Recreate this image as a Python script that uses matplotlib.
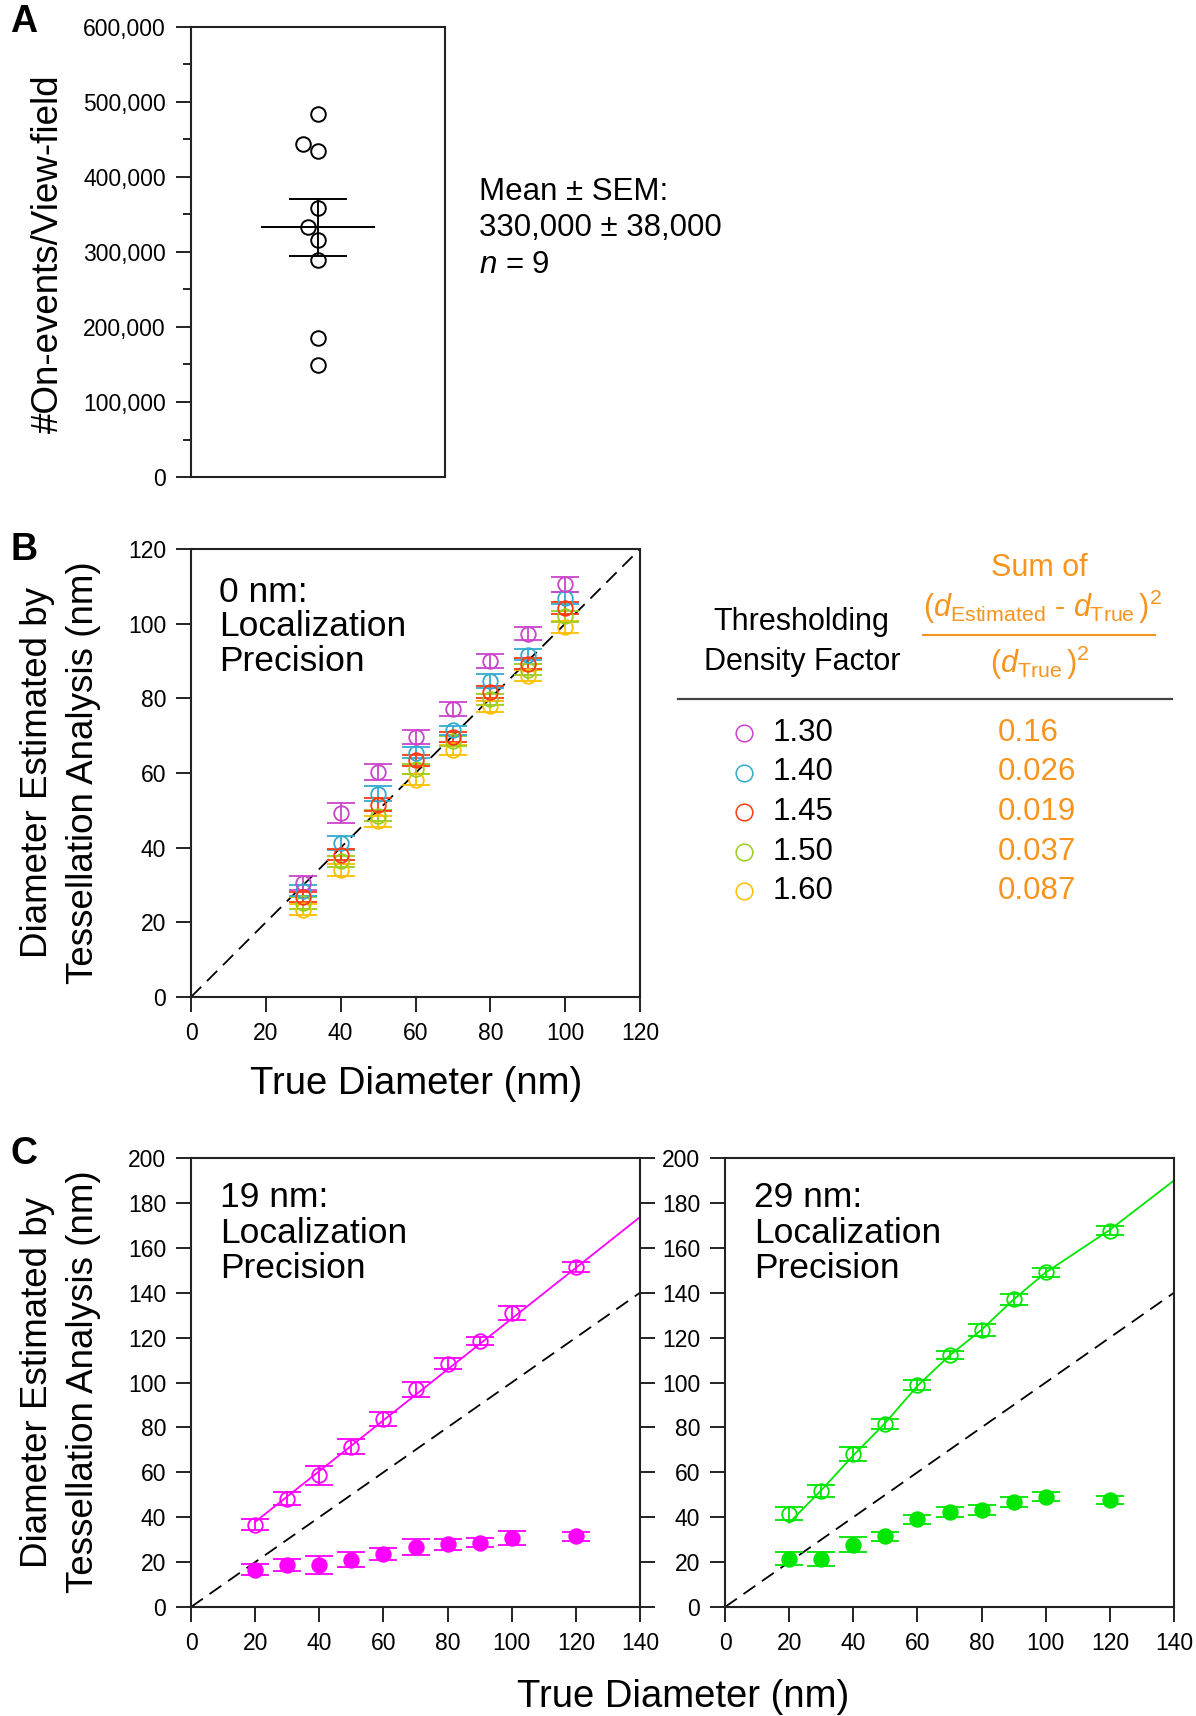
import numpy as np
import matplotlib
matplotlib.use('Agg')
import matplotlib.pyplot as plt
from matplotlib.ticker import FuncFormatter, MultipleLocator

plt.rcParams['font.family'] = ['Liberation Sans', 'DejaVu Sans']
plt.rcParams['mathtext.fontset'] = 'custom'
plt.rcParams['mathtext.rm'] = 'Liberation Sans'
plt.rcParams['mathtext.it'] = 'Liberation Sans:italic'
plt.rcParams['mathtext.bf'] = 'Liberation Sans:bold'

## panel A : on-events per view-field
eventsA = [483600, 444000, 435100, 359100, 333000, 316000, 289300, 184900, 149300]
jitterA = [0, -0.118, 0, 0, -0.079, 0, 0, 0, 0]
statA_text = ['Mean ± SEM:', '330,000 ± 38,000', '$n$ = 9']

## panel B : 0 nm localization precision, several density factors
trueB = [30, 40, 50, 60, 70, 80, 90, 100]
factors = ['1.30', '1.40', '1.45', '1.50', '1.60']
sumsq = ['0.16', '0.026', '0.019', '0.037', '0.087']
estB = {
    '1.30': [30.5, 49.3, 60.2, 69.7, 77.2, 89.9, 97.3, 110.5],
    '1.40': [28.5, 41.3, 54.5, 65.4, 71.4, 84.6, 91.7, 106.9],
    '1.45': [26.8, 38.1, 51.5, 63.4, 69.6, 81.6, 89.3, 104.2],
    '1.50': [25.2, 36.3, 48.6, 61.1, 68.5, 79.7, 87.7, 102.0],
    '1.60': [23.4, 33.9, 47.1, 58.2, 66.1, 77.9, 86.1, 99.1],
}
errB = {
    '1.30': [1.9, 2.7, 2.1, 1.8, 1.9, 1.9, 1.8, 2.0],
    '1.40': [1.5, 1.8, 2.0, 1.5, 1.2, 1.8, 1.5, 1.5],
    '1.45': [1.4, 1.5, 1.8, 1.5, 1.3, 1.6, 1.4, 1.5],
    '1.50': [1.5, 1.5, 1.5, 1.4, 1.3, 1.4, 1.4, 1.5],
    '1.60': [1.5, 1.6, 1.5, 1.5, 1.3, 1.5, 1.4, 1.5],
}
colB = {'1.30': '#cc44cc', '1.40': '#33aad0', '1.45': '#ff3a14',
        '1.50': '#9acd1e', '1.60': '#ffbe00'}
draw_order = ['1.60', '1.50', '1.40', '1.30', '1.45']

## panel C : 19 nm and 29 nm localization precision
trueC = [20, 30, 40, 50, 60, 70, 80, 90, 100, 120]
open19 = [36.7, 48.3, 58.7, 71.4, 83.7, 97.0, 108.3, 118.5, 131.0, 151.5]
open19_err = [2.5, 2.8, 4.2, 3.3, 3.0, 3.3, 2.5, 1.9, 3.1, 2.2]
fill19 = [16.7, 18.6, 18.9, 21.1, 23.8, 26.8, 28.0, 28.6, 30.8, 31.5]
fill19_err = [2.5, 2.7, 4.0, 3.5, 2.7, 3.6, 2.5, 2.0, 3.2, 2.0]
fit19_x = [20, 140]
fit19_y = [37.9, 173.7]
open29 = [41.6, 51.6, 68.1, 81.5, 98.9, 112.3, 123.4, 137.1, 149.1, 167.7]
open29_err = [3.0, 2.8, 3.2, 2.1, 2.1, 1.9, 2.5, 2.4, 2.0, 1.9]
fill29 = [21.6, 21.3, 27.8, 31.5, 39.0, 42.4, 43.4, 46.8, 49.1, 47.6]
fill29_err = [2.8, 3.0, 3.3, 2.1, 2.2, 2.2, 2.2, 2.2, 2.1, 1.9]
fit29_x = [20, 30, 40, 50, 60, 70, 80, 90, 100, 120, 140]
fit29_y = [37.5, 52, 67.5, 82, 98.5, 112, 123.5, 137, 149, 168, 190]

orange = '#f7941d'
W, H = 1196, 1716
fig = plt.figure(figsize=(W/100., H/100.), dpi=100)

def px_axes(x0, y0, x1, y1):
    return fig.add_axes([x0/W, 1-y1/H, (x1-x0)/W, (y1-y0)/H])

def style(ax):
    for s in ax.spines.values():
        s.set_linewidth(1.5)
        s.set_color('#222222')
    ax.tick_params(direction='out', length=11, width=1.4, pad=7,
                   labelsize=16.5, color='#222222')

dash = (0, (8, 4.5))

# ---- A
axA = px_axes(191, 27, 445, 477)
style(axA)
xA = 1 + np.array(jitterA)
axA.plot(xA, eventsA, 'o', ms=10.5, mfc='none', mec='black', mew=1.4)
meanA = np.mean(eventsA)
semA = np.std(eventsA, ddof=1)/np.sqrt(len(eventsA))
axA.hlines(meanA, 1-0.45, 1+0.45, color='black', lw=1.4)
axA.hlines([meanA-semA, meanA+semA], 1-0.23, 1+0.23, color='black', lw=1.4)
axA.vlines(1, meanA-semA, meanA+semA, color='black', lw=1.4)
axA.set_xlim(0, 2)
axA.set_ylim(0, 600000)
axA.set_xticks([])
axA.yaxis.set_major_locator(MultipleLocator(100000))
axA.yaxis.set_minor_locator(MultipleLocator(50000))
axA.tick_params(which='minor', length=5.5, width=1.4, color='#222222')
axA.yaxis.set_major_formatter(FuncFormatter(lambda v, p: '{:,}'.format(int(v))))

# ---- B
axB = px_axes(191, 549, 640, 997)
style(axB)
axB.plot([0, 120], [0, 120], ls=dash, color='black', lw=1.3)
for f in draw_order:
    axB.errorbar(trueB, estB[f], yerr=errB[f], fmt='o', ms=10.5, mfc='none',
                 mec=colB[f], mew=1.3, ecolor=colB[f], elinewidth=1.3,
                 capsize=9.8, capthick=1.3)
axB.set_xlim(0, 120)
axB.set_ylim(0, 120)
axB.set_xticks(range(0, 121, 20))
axB.set_yticks(range(0, 121, 20))
axB.text(0.062, 0.902, '0 nm:', transform=axB.transAxes, fontsize=25.5, va='center')
axB.text(0.062, 0.826, 'Localization', transform=axB.transAxes, fontsize=25.5, va='center')
axB.text(0.062, 0.748, 'Precision', transform=axB.transAxes, fontsize=25.5, va='center')

# ---- C
axC1 = px_axes(191, 1158, 640, 1607)
axC2 = px_axes(725, 1158, 1174, 1607)
panelsC = [(axC1, '19', '#ff00ff', open19, open19_err, fill19, fill19_err, fit19_x, fit19_y),
           (axC2, '29', '#00e600', open29, open29_err, fill29, fill29_err, fit29_x, fit29_y)]
for ax, prec, col, op, ope, fi, fie, fx, fy in panelsC:
    style(ax)
    ax.plot([0, 140], [0, 140], ls=dash, color='black', lw=1.3)
    ax.plot(fx, fy, color=col, lw=1.3)
    ax.errorbar(trueC, op, yerr=ope, fmt='o', ms=10.5, mfc='none', mec=col,
                mew=1.3, ecolor=col, elinewidth=1.3, capsize=9.8, capthick=1.3)
    ax.errorbar(trueC, fi, yerr=fie, fmt='o', ms=10.5, mfc=col, mec=col,
                mew=1.3, ecolor=col, elinewidth=1.3, capsize=9.8, capthick=1.3)
    ax.set_xlim(0, 140)
    ax.set_ylim(0, 200)
    ax.set_xticks(range(0, 141, 20))
    ax.set_yticks(range(0, 201, 20))
    ax.text(0.065, 0.911, prec + ' nm:', transform=ax.transAxes, fontsize=25.5, va='center')
    ax.text(0.065, 0.831, 'Localization', transform=ax.transAxes, fontsize=25.5, va='center')
    ax.text(0.065, 0.755, 'Precision', transform=ax.transAxes, fontsize=25.5, va='center')
axC1.tick_params(right=True, labelright=False)

# ---- overlay for labels and the table legend
ov = fig.add_axes([0, 0, 1, 1])
ov.set_xlim(0, W)
ov.set_ylim(H, 0)
ov.axis('off')
ov.patch.set_visible(False)

for lab, y in [('A', 22), ('B', 550), ('C', 1154)]:
    ov.text(24, y, lab, fontsize=27, fontweight='bold', ha='center', va='center')

ov.text(48, 254, '#On-events/View-field', fontsize=26.5, rotation=90, ha='center', va='center')
for yc in [773, 1382]:
    ov.text(38, yc, 'Diameter Estimated by', fontsize=26.5, rotation=90, ha='center', va='center')
    ov.text(84, yc, 'Tessellation Analysis (nm)', fontsize=26.5, rotation=90, ha='center', va='center')
ov.text(416, 1084, 'True Diameter (nm)', fontsize=27.5, ha='center', va='center')
ov.text(683, 1697, 'True Diameter (nm)', fontsize=27.5, ha='center', va='center')

for i, t in enumerate(statA_text):
    ov.text(479, 192 + 36.5*i, t, fontsize=22.5, ha='left', va='center')

ov.text(801, 622, 'Thresholding', fontsize=22, ha='center', va='center')
ov.text(802, 662, 'Density Factor', fontsize=22, ha='center', va='center')
ov.text(1039, 568, 'Sum of', fontsize=22, ha='center', va='center', color=orange)
ov.text(1043, 607, r'$(d_{\mathrm{Estimated}}$ - $d_{\mathrm{True}}\,)^2$', fontsize=22,
        ha='center', va='center', color=orange)
ov.plot([923, 1155], [635, 635], color=orange, lw=1.5)
ov.text(1040, 663, r'$(d_{\mathrm{True}}\,)^2$', fontsize=22, ha='center', va='center', color=orange)
ov.plot([678, 1172], [699, 699], color='#444444', lw=1.6)

for i, f in enumerate(factors):
    yr = 733 + 39.5*i
    ov.plot(744, yr, 'o', ms=12, mfc='none', mec=colB[f], mew=1.1)
    ov.text(773, yr, f, fontsize=22.5, ha='left', va='center')
    ov.text(998, yr, sumsq[i], fontsize=22.5, ha='left', va='center', color=orange)

fig.savefig('out.png', dpi=100)
